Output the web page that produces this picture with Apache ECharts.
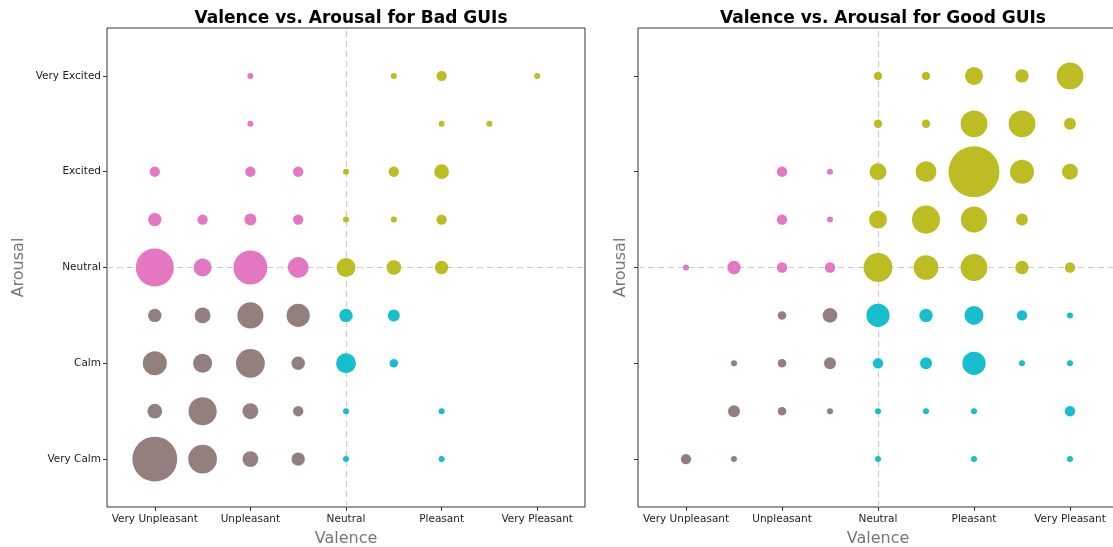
<!DOCTYPE html>
<html>
<head>
<meta charset="utf-8">
<script src="https://cdn.jsdelivr.net/npm/echarts@6/dist/echarts.min.js"></script>
<style>
  html, body { margin: 0; padding: 0; background: #fff; }
  #chart { width: 1113px; height: 547px; }
</style>
</head>
<body>
<div id="chart"></div>
<script>
  // tick labels (values 1,3,5,7,9 on both axes)
  var valenceLabels = ['Very Unpleasant', 'Unpleasant', 'Neutral', 'Pleasant', 'Very Pleasant'];
  var arousalLabels = ['Very Calm', 'Calm', 'Neutral', 'Excited', 'Very Excited'];
  var tickValues = [1, 3, 5, 7, 9];

  // [valence, arousal, count]
  var badPoints = [
    [3, 9, 1], [6, 9, 1], [7, 9, 3], [9, 9, 1],
    [3, 8, 1], [7, 8, 1], [8, 8, 1],
    [1, 7, 3], [3, 7, 3], [4, 7, 3], [5, 7, 1], [6, 7, 3], [7, 7, 6],
    [1, 6, 5], [2, 6, 3], [3, 6, 4], [4, 6, 3], [5, 6, 1], [6, 6, 1], [7, 6, 3],
    [1, 5, 40], [2, 5, 9], [3, 5, 32], [4, 5, 12], [5, 5, 10], [6, 5, 6], [7, 5, 5],
    [1, 4, 5], [2, 4, 7], [3, 4, 19], [4, 4, 15], [5, 4, 5], [6, 4, 4],
    [1, 3, 16], [2, 3, 10], [3, 3, 23], [4, 3, 5], [5, 3, 11], [6, 3, 2],
    [1, 2, 6], [2, 2, 22], [3, 2, 7], [4, 2, 3], [5, 2, 1], [7, 2, 1],
    [1, 1, 56], [2, 1, 23], [3, 1, 7], [4, 1, 5], [5, 1, 1], [7, 1, 1]
  ];

  var goodPoints = [
    [5, 9, 2], [6, 9, 2], [7, 9, 9], [8, 9, 5], [9, 9, 20],
    [5, 8, 2], [6, 8, 2], [7, 8, 20], [8, 8, 20], [9, 8, 4],
    [3, 7, 3], [4, 7, 1], [5, 7, 8], [6, 7, 12], [7, 7, 72], [8, 7, 16], [9, 7, 7],
    [3, 6, 3], [4, 6, 1], [5, 6, 9], [6, 6, 22], [7, 6, 19], [8, 6, 4],
    [1, 5, 1], [2, 5, 5], [3, 5, 3], [4, 5, 3], [5, 5, 23], [6, 5, 17], [7, 5, 20], [8, 5, 5], [9, 5, 3],
    [3, 4, 2], [4, 4, 6], [5, 4, 15], [6, 4, 5], [7, 4, 10], [8, 4, 3], [9, 4, 1],
    [2, 3, 1], [3, 3, 2], [4, 3, 4], [5, 3, 3], [6, 3, 4], [7, 3, 15], [8, 3, 1], [9, 3, 1],
    [2, 2, 4], [3, 2, 2], [4, 2, 1], [5, 2, 1], [6, 2, 1], [7, 2, 1], [9, 2, 3],
    [1, 1, 3], [2, 1, 1], [5, 1, 1], [7, 1, 1], [9, 1, 1]
  ];

  var FONT = 'DejaVu Sans';

  function quadColor(p) {
    var v = p.value[0], a = p.value[1];
    if (v < 5) return a >= 5 ? '#e377c2' : '#947f7f';
    return a >= 5 ? '#bcbd22' : '#17becf';
  }

  function xAxisFor(idx) {
    return {
      gridIndex: idx, type: 'value', min: 0, max: 10,
      name: 'Valence', nameLocation: 'middle', nameGap: 24,
      nameTextStyle: { fontFamily: FONT, fontSize: 16, color: '#777' },
      axisLine: { show: false },
      splitLine: { show: false },
      axisTick: { show: true, length: 4, customValues: tickValues, lineStyle: { color: '#333' } },
      axisLabel: {
        customValues: tickValues, margin: 7,
        fontFamily: FONT, fontSize: 10.5, color: '#222',
        formatter: function (v) { return valenceLabels[(v - 1) / 2]; }
      }
    };
  }

  function yAxisFor(idx, withLabels) {
    return {
      gridIndex: idx, type: 'value', min: 0, max: 10,
      name: 'Arousal', nameLocation: 'middle', nameGap: withLabels ? 80 : 9,
      nameTextStyle: { fontFamily: FONT, fontSize: 16, color: '#777' },
      axisLine: { show: false },
      splitLine: { show: false },
      axisTick: { show: true, length: 4, customValues: tickValues, lineStyle: { color: '#333' } },
      axisLabel: {
        show: withLabels, customValues: tickValues, margin: 6,
        fontFamily: FONT, fontSize: 10.5, color: '#222',
        formatter: function (v) { return arousalLabels[(v - 1) / 2]; }
      }
    };
  }

  // dashed neutral guides, kept behind the bubbles
  function guideSeries(idx) {
    return {
      type: 'scatter', xAxisIndex: idx, yAxisIndex: idx, data: [], z: 1, silent: true,
      markLine: {
        z: 1, silent: true, symbol: 'none', label: { show: false },
        lineStyle: { type: [6, 4], color: '#cccccc', width: 1.2 },
        data: [{ xAxis: 5 }, { yAxis: 5 }]
      }
    };
  }

  function bubbleSeries(idx, pts) {
    return {
      type: 'scatter', xAxisIndex: idx, yAxisIndex: idx, z: 3,
      data: pts,
      symbolSize: function (d) { return 6 * Math.sqrt(d[2]); },
      itemStyle: { color: quadColor, opacity: 1 }
    };
  }

  var chart = echarts.init(document.getElementById('chart'));
  chart.setOption({
    animation: false,
    backgroundColor: '#fff',
    title: [
      { text: 'Valence vs. Arousal for Bad GUIs', left: 346, top: 5, textAlign: 'center',
        textStyle: { fontFamily: FONT, fontSize: 17, fontWeight: 'bold', color: '#000' } },
      { text: 'Valence vs. Arousal for Good GUIs', left: 878, top: 5, textAlign: 'center',
        textStyle: { fontFamily: FONT, fontSize: 17, fontWeight: 'bold', color: '#000' } }
    ],
    grid: [
      { left: 107, top: 28, width: 478, height: 479, outerBoundsMode: 'none', containLabel: false,
        show: true, borderColor: '#333', borderWidth: 1, backgroundColor: 'transparent' },
      { left: 638, top: 28, width: 480, height: 479, outerBoundsMode: 'none', containLabel: false,
        show: true, borderColor: '#333', borderWidth: 1, backgroundColor: 'transparent' }
    ],
    xAxis: [xAxisFor(0), xAxisFor(1)],
    yAxis: [yAxisFor(0, true), yAxisFor(1, false)],
    series: [
      guideSeries(0), bubbleSeries(0, badPoints),
      guideSeries(1), bubbleSeries(1, goodPoints)
    ]
  });
</script>
</body>
</html>
